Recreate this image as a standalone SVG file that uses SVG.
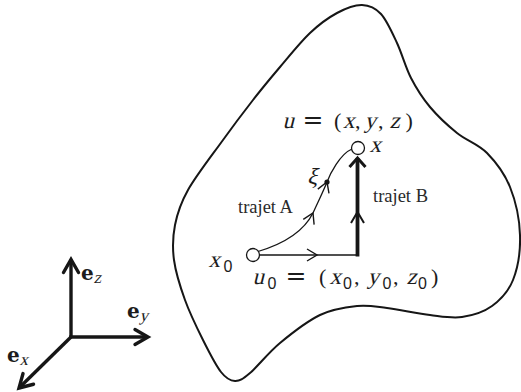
<svg xmlns="http://www.w3.org/2000/svg" width="521" height="392" viewBox="0 0 521 392">
<style>
marker{overflow:visible}
.ln{fill:none;stroke:#161616;stroke-linejoin:miter}
.mi{font-family:"Liberation Serif",serif;font-size:23px;fill:#1c1c1c}
.r{font-family:"Liberation Serif",serif;font-size:22px;fill:#1c1c1c}
.eq{font-family:"DejaVu Serif",serif;font-size:25px;fill:#1c1c1c}
.s{font-family:"Liberation Sans",Arial,sans-serif;font-size:16px;fill:#1c1c1c}
.t{font-family:"Liberation Serif","Times New Roman",serif;font-size:18.5px;fill:#2a2a2a}
.b{font-family:"DejaVu Serif",serif;font-weight:bold;font-size:20px;fill:#1c1c1c}
.sub{font-family:"Liberation Serif",serif;font-size:17px;fill:#1c1c1c}
.node{fill:#fff;stroke:#161616;stroke-width:1.3}
</style>
<defs>
<marker id="chevThin" markerUnits="userSpaceOnUse" orient="auto" refX="0" refY="0" markerWidth="1" markerHeight="1">
<path d="M-10,-6 L0,0 L-10,6" fill="none" stroke="#161616" stroke-width="1.4"/>
</marker>
<marker id="chevBold" markerUnits="userSpaceOnUse" orient="auto" refX="0" refY="0" markerWidth="1" markerHeight="1">
<path d="M-11,-6.5 L0,0 L-11,6.5" fill="none" stroke="#161616" stroke-width="2"/>
</marker>
<marker id="headBold" markerUnits="userSpaceOnUse" orient="auto" refX="0" refY="0" markerWidth="1" markerHeight="1">
<path d="M-9,-8 L0,0 L-9,8" fill="none" stroke="#161616" stroke-width="3"/>
</marker>
<marker id="axisHead" markerUnits="userSpaceOnUse" orient="auto" refX="0" refY="0" markerWidth="1" markerHeight="1">
<path d="M-13,-7.5 L0,0 L-13,7.5" fill="none" stroke="#161616" stroke-width="3.4" stroke-linecap="round"/>
</marker>
</defs>

<g id="domain">
<path class="ln" stroke-width="2" d="M362,5 C369.3,5.2 375.2,7.7 381,14 C386.8,20.3 392,32.3 397,43 C402,53.7 405.5,67.3 411,78 C416.5,88.7 422.3,97.8 430,107 C437.7,116.2 447.5,125.3 457,133 C466.5,140.7 478.2,144 487,153 C495.8,162 504.5,173.3 510,187 C515.5,200.7 519.5,219.5 520,235 C520.5,250.5 517.7,268.2 513,280 C508.3,291.8 500.5,299.8 492,306 C483.5,312.2 472.3,315.5 462,317 C451.7,318.5 442.5,316.5 430,315 C417.5,313.5 399.2,309.5 387,308 C374.8,306.5 368.2,304.8 357,306 C345.8,307.2 332.8,308.8 320,315 C307.2,321.2 291.7,333.3 280,343 C268.3,352.7 257.5,366.7 250,373 C242.5,379.3 239.8,381.2 235,381 C230.2,380.8 226.3,378.8 221,372 C215.7,365.2 209,352 203,340 C197,328 189.8,313.3 185,300 C180.2,286.7 175.7,272.5 174,260 C172.3,247.5 172.7,236.7 175,225 C177.3,213.3 180,204.2 188,190 C196,175.8 212.2,155 223,140 C233.8,125 243.5,112.2 253,100 C262.5,87.8 270.5,78.2 280,67 C289.5,55.8 300.5,42 310,33 C319.5,24 328.3,17.7 337,13 C345.7,8.3 354.7,4.8 362,5 Z"/>
</g>

<g id="axes">
<path class="ln" stroke-width="3.4" d="M71,337 L71,259.5" marker-end="url(#axisHead)"/>
<path class="ln" stroke-width="3.4" d="M69.3,337 L148,337" marker-end="url(#axisHead)"/>
<path class="ln" stroke-width="3.4" d="M71,337 L19,388" marker-end="url(#axisHead)"/>
<text class="b" x="81" y="280">e</text>
<text class="sub" transform="translate(93.5,283) skewX(-14)">z</text>
<text class="b" x="127" y="318">e</text>
<text class="sub" transform="translate(139.5,321) skewX(-14)">y</text>
<text class="b" x="7" y="362">e</text>
<text class="sub" transform="translate(19.5,365) skewX(-14)">x</text>
</g>

<g id="connectors">
<path id="trajetA" class="ln" stroke-width="1.3" d="M258,251.5 C283,244 303,233 313,213 C318,202 323,192 327,182 C330,174 340,154 352,149" marker-mid="url(#chevThin)"/>
<path id="horizontal" class="ln" stroke-width="1.3" d="M259.5,255 L317,255 L357,255" marker-mid="url(#chevThin)"/>
<path id="trajetB" class="ln" stroke-width="3.8" d="M357.5,256.5 L357.5,212 L357.5,158" marker-mid="url(#chevBold)" marker-end="url(#headBold)"/>
</g>

<g id="node-x0">
<circle class="node" cx="253" cy="255" r="6.5"/>
<text class="mi" transform="translate(208.5,267) skewX(-14)">x</text>
<text class="s" x="223.5" y="272">0</text>
</g>

<g id="node-x">
<circle class="node" cx="358" cy="148" r="6.5"/>
<text class="mi" transform="translate(369.5,152) skewX(-14)">x</text>
</g>

<g id="node-xi">
<circle cx="327" cy="182" r="2.6" fill="#161616"/>
<text class="mi" transform="translate(307,184) skewX(-14)">ξ</text>
</g>

<g id="label-u">
<text class="mi" transform="translate(0,128) skewX(-14)"><tspan x="282.5">u</tspan><tspan x="343">x</tspan><tspan x="364.5">y</tspan><tspan x="389.5">z</tspan></text>
<text class="r" y="128"><tspan class="eq" x="302.5">=</tspan><tspan x="334">(</tspan><tspan x="355">,</tspan><tspan x="378">,</tspan><tspan x="405.5">)</tspan></text>
</g>

<g id="label-u0">
<text class="mi" transform="translate(0,284) skewX(-14)"><tspan x="252.5">u</tspan><tspan x="329.5">x</tspan><tspan x="367.5">y</tspan><tspan x="406.5">z</tspan></text>
<text class="r" y="284"><tspan class="eq" x="285.5">=</tspan><tspan x="319">(</tspan><tspan x="354">,</tspan><tspan x="393">,</tspan><tspan x="431">)</tspan></text>
<text class="s" y="289"><tspan x="267.5">0</tspan><tspan x="343">0</tspan><tspan x="382.5">0</tspan><tspan x="418">0</tspan></text>
</g>

<g id="path-labels">
<text class="t" x="238" y="213">trajet A</text>
<text class="t" x="373" y="202">trajet B</text>
</g>
</svg>
